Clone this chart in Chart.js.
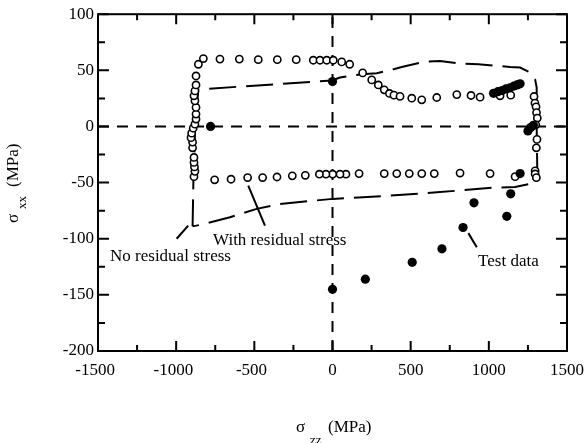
<!DOCTYPE html>
<html>
<head>
<meta charset="utf-8">
<script src="https://cdn.jsdelivr.net/npm/chart.js@4.4.1/dist/chart.umd.min.js"></script>
<style>
  body { margin: 0; background: #fff; }
  #wrap { width: 584px; height: 443px; }
</style>
</head>
<body>
<div id="wrap"><canvas id="chart" width="584" height="443"></canvas></div>
<script>
// open circles: with residual stress
const withX = [-886, -880, -883, -886, -886, -895, -895, -905, -901, -891, -880, -873, -873, -873, -880, -886, -880, -873, -873, -858, -826,
    -720, -596, -475, -353, -232, -123, -80, -37, 5, 59, 110, 193, 251, 293, 331, 364, 393, 432, 507, 571, 667, 795, 886, 944, 1072, 1140,
    1289, 1295, 1302, 1305, 1310, 1300, 1308, 1304, 1296, 1296, 1304,
    1168, 1008, 816, 651, 571, 491, 411, 331, 170, 86, 48, 1, -42, -84, -174, -257, -355, -447, -543, -649, -754];
const withY = [-44.7, -40, -36, -32, -27.6, -19, -14, -10, -6, -1.5, 2, 6.6, 11, 17, 22.8, 27.3, 31.7, 37, 45, 55.4, 60.5,
    60, 60, 59.5, 59.5, 59.5, 59, 59, 59, 59, 57.5, 55.4, 47.7, 41.5, 37, 32.6, 29.4, 27.9, 26.8, 25.2, 23.7, 25.8, 28.4, 27.6, 26.1, 27.3, 27.9,
    26.7, 20.8, 17.5, 12.4, 7.5, 1.5, -11.5, -19, -39.5, -42.3, -45.6,
    -44.7, -42, -41.5, -42, -42, -42, -42, -42, -42, -42.5, -42.5, -42.5, -42.5, -42.5, -43.5, -44, -45, -45.5, -45.5, -47, -47.5];

// dashed line: no residual stress
const noResX = [-895, -890, -878, -858, -5, 48, 187, 283, 368, 443, 581, 688, 816, 933, 1136, 1200, 1264, 1296, 1306, 1306, 1310, 1296,
    1168, 1029, 667, 368, 1, -336, -485, -656, -837, -895];
const noResY = [-89, -50, 0, 33, 41, 43.6, 46.6, 47.5, 50, 53, 57.5, 58.4, 56, 55.5, 53, 52.5, 48, 42, 34.7, 0, -40, -50,
    -54, -54.5, -58.7, -61.6, -64.5, -69, -73.4, -80.8, -87.4, -89];

// filled circles: test data
const testX = [-780, 0, 0, 210, 510, 700, 835, 905, 1115, 1140, 1200, 1250, 1268, 1285, 1030, 1058, 1085, 1110, 1135, 1160, 1180, 1200];
const testY = [0, 40, -145, -136, -121, -109, -90, -68, -80, -60, -42, -4, -1, 1, 29.5, 31, 32, 33.5, 34.5, 36, 37, 38];

const xTicks = [-1500, -1000, -500, 0, 500, 1000, 1500];
const yTicks = [-200, -150, -100, -50, 0, 50, 100];

const labels = [
    { text: 'No residual stress', x: -1423, y: -119.5, lx: [-997, -923], ly: [-100, -88.3] },
    { text: 'With residual stress', x: -764, y: -106, lx: [-539, -432], ly: [-52.7, -88.3] },
    { text: 'Test data', x: 931, y: -124, lx: [869, 923], ly: [-95, -107.6] }
];

const FONT = '"Liberation Serif", "Times New Roman", serif';

const toPts = (xs, ys) => xs.map((x, i) => ({ x: x, y: ys[i] }));

const framePlugin = {
    id: 'frame',
    afterDraw(chart) {
        const c = chart.ctx;
        const a = chart.chartArea;
        const sx = chart.scales.x, sy = chart.scales.y;
        c.save();
        c.strokeStyle = '#000';
        c.fillStyle = '#000';
        c.lineWidth = 2;
        c.strokeRect(a.left, a.top, a.right - a.left, a.bottom - a.top);
        // inward ticks
        c.beginPath();
        for (let v = -1500; v <= 1500; v += 250) {
            const p = sx.getPixelForValue(v);
            const len = v % 500 === 0 ? 10 : 6;
            c.moveTo(p, a.bottom); c.lineTo(p, a.bottom - len);
            c.moveTo(p, a.top); c.lineTo(p, a.top + len);
        }
        for (let v = -200; v <= 100; v += 25) {
            const p = sy.getPixelForValue(v);
            const len = v % 50 === 0 ? 11 : 7;
            c.moveTo(a.left, p); c.lineTo(a.left + len, p);
            c.moveTo(a.right, p); c.lineTo(a.right - len, p);
        }
        c.stroke();
        // x tick labels, number centred, minus sign hangs left
        c.font = '17px ' + FONT;
        c.textBaseline = 'alphabetic';
        c.textAlign = 'right';
        xTicks.forEach(v => {
            const num = String(Math.abs(v));
            const w = c.measureText(num).width;
            c.fillText(String(v), sx.getPixelForValue(v) + w / 2, 375);
        });
        // annotations
        c.lineWidth = 2;
        c.textAlign = 'left';
        labels.forEach(l => {
            c.beginPath();
            c.moveTo(sx.getPixelForValue(l.lx[0]), sy.getPixelForValue(l.ly[0]));
            c.lineTo(sx.getPixelForValue(l.lx[1]), sy.getPixelForValue(l.ly[1]));
            c.stroke();
            c.fillText(l.text, sx.getPixelForValue(l.x), sy.getPixelForValue(l.y));
        });
        // x title
        c.font = '17px ' + FONT;
        c.fillText('σ', 296, 432);
        c.font = '13px ' + FONT;
        c.fillText('zz', 310, 444);
        c.font = '17px ' + FONT;
        c.fillText('(MPa)', 328, 432);
        // y title, rotated
        c.translate(18, 223);
        c.rotate(-Math.PI / 2);
        c.fillText('σ', 0, 0);
        c.font = '13px ' + FONT;
        c.fillText('xx', 14, 8);
        c.font = '17px ' + FONT;
        c.fillText('(MPa)', 36, 0);
        c.restore();
    }
};

new Chart(document.getElementById('chart'), {
    type: 'scatter',
    data: {
        datasets: [
            {
                label: 'Test data',
                data: toPts(testX, testY),
                pointRadius: 4.6,
                pointBackgroundColor: '#000',
                pointBorderColor: '#000',
                pointBorderWidth: 0,
                showLine: false
            },
            {
                label: 'With residual stress',
                data: toPts(withX, withY),
                pointRadius: 3.6,
                pointBackgroundColor: '#fff',
                pointBorderColor: '#000',
                pointBorderWidth: 1.6,
                showLine: false
            },
            {
                label: 'No residual stress',
                data: toPts(noResX, noResY),
                showLine: true,
                pointRadius: 0,
                borderColor: '#000',
                borderWidth: 2,
                borderDash: [27, 10],
                tension: 0
            },
            {
                label: 'y0',
                data: [{ x: -1500, y: 0 }, { x: 1500, y: 0 }],
                showLine: true,
                pointRadius: 0,
                borderColor: '#000',
                borderWidth: 2,
                borderDash: [11, 8]
            },
            {
                label: 'x0',
                data: [{ x: 0, y: -200 }, { x: 0, y: 100 }],
                showLine: true,
                pointRadius: 0,
                borderColor: '#000',
                borderWidth: 2,
                borderDash: [11, 8]
            }
        ]
    },
    options: {
        responsive: false,
        animation: false,
        events: [],
        layout: { padding: { left: 0, right: 17, top: 13, bottom: 0 } },
        plugins: { legend: { display: false }, tooltip: { enabled: false } },
        scales: {
            x: {
                type: 'linear',
                min: -1500,
                max: 1500,
                ticks: { display: false, stepSize: 500 },
                grid: { display: false },
                border: { display: false },
                afterFit: s => { s.height = 92; }
            },
            y: {
                type: 'linear',
                min: -200,
                max: 100,
                ticks: { stepSize: 50, color: '#000', padding: 4, font: { family: FONT, size: 17 } },
                grid: { display: false, drawTicks: false },
                border: { display: false },
                afterFit: s => { s.width = 98; }
            }
        }
    },
    plugins: [framePlugin]
});
</script>
</body>
</html>
